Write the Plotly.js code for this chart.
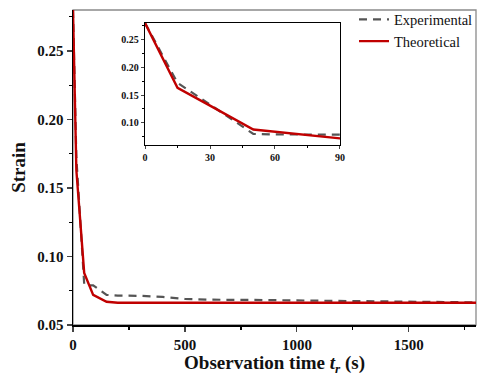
<!DOCTYPE html>
<html><head><meta charset="utf-8">
<script src="https://cdn.plot.ly/plotly-3.0.1.min.js"></script>
<style>body{margin:0;background:#fff}#plot{width:494px;height:377px}</style>
</head><body><div id="plot"></div>
<script>
const expTime = [0, 15, 30, 45, 50, 60, 90, 150, 200, 300, 400, 500, 600, 800, 1000, 1200, 1500, 1800];
const expStrain = [0.28, 0.172, 0.133, 0.092, 0.080, 0.079, 0.079, 0.072, 0.0715, 0.0713, 0.0705, 0.069, 0.0685, 0.0683, 0.068, 0.0675, 0.067, 0.0665];
const theoTime = [0, 15, 30, 50, 90, 150, 200, 300, 500, 1000, 1500, 1800];
const theoStrain = [0.28, 0.163, 0.131, 0.088, 0.072, 0.067, 0.0663, 0.0663, 0.0663, 0.0663, 0.0663, 0.0663];
const mainXTicks = [0, 500, 1000, 1500];
const mainXLabels = ['0', '500', '1000', '1500'];
const mainYTicks = [0.05, 0.10, 0.15, 0.20, 0.25];
const mainYLabels = ['0.05', '0.10', '0.15', '0.20', '0.25'];
const insetXTicks = [0, 30, 60, 90];
const insetXLabels = ['0', '30', '60', '90'];
const insetYTicks = [0.10, 0.15, 0.20, 0.25];
const insetYLabels = ['0.10', '0.15', '0.20', '0.25'];

const serif = 'Liberation Serif';
const bold = a => a.map(s => '<b>' + s + '</b>');
const expStyle = {color: '#555555', width: 2.2, dash: '8px,6px'};
const theoStyle = {color: '#c00000', width: 2.4};

const traces = [
  {x: expTime, y: expStrain, mode: 'lines', name: 'Experimental', line: expStyle, xaxis: 'x', yaxis: 'y'},
  {x: theoTime, y: theoStrain, mode: 'lines', name: 'Theoretical', line: theoStyle, xaxis: 'x', yaxis: 'y'},
  {x: expTime, y: expStrain, mode: 'lines', showlegend: false, line: expStyle, xaxis: 'x2', yaxis: 'y2'},
  {x: theoTime, y: theoStrain, mode: 'lines', showlegend: false, line: theoStyle, xaxis: 'x2', yaxis: 'y2'}
];

const layout = {
  width: 494, height: 377,
  margin: {l: 73, r: 18, t: 10, b: 52, autoexpand: false},
  paper_bgcolor: '#ffffff', plot_bgcolor: '#ffffff',
  font: {family: serif, color: '#111'},
  showlegend: true,
  legend: {x: 1.005, xanchor: 'right', y: 1.021, yanchor: 'top', bgcolor: 'rgba(0,0,0,0)',
    font: {family: serif, size: 14.5, color: '#111'}, tracegroupgap: 0},
  xaxis: {
    domain: [0, 1], range: [0, 1800], tickvals: mainXTicks, ticktext: bold(mainXLabels), ticks: 'outside', ticklen: 5, tickwidth: 1.2,
    showline: true, linecolor: '#000', linewidth: 1.5, showgrid: false, zeroline: false,
    minor: {tickvals: [250, 750, 1250, 1750], ticks: 'outside', ticklen: 3, tickcolor: '#000'},
    tickfont: {family: serif, size: 15, color: '#111'},
    title: {text: '<b>Observation time <i>t<sub>r</sub></i> (s)</b>', font: {family: serif, size: 19, color: '#111'}, standoff: 4}
  },
  yaxis: {
    domain: [0, 1], range: [0.05, 0.28], tickvals: mainYTicks, ticktext: bold(mainYLabels), ticks: 'outside', ticklen: 5, tickwidth: 1.2,
    showline: true, linecolor: '#000', linewidth: 1.5, showgrid: false, zeroline: false,
    minor: {tickvals: [0.075, 0.125, 0.175, 0.225, 0.275], ticks: 'outside', ticklen: 3, tickcolor: '#000'},
    tickfont: {family: serif, size: 15, color: '#111'},
    title: {text: '<b>Strain</b>', font: {family: serif, size: 19, color: '#111'}, standoff: 6}
  },
  xaxis2: {
    domain: [0.1787, 0.6625], anchor: 'y2', range: [0, 90], tickvals: insetXTicks, ticktext: bold(insetXLabels), ticks: 'outside', ticklen: 3,
    showline: true, mirror: true, linecolor: '#000', linewidth: 1.3, showgrid: false, zeroline: false,
    minor: {tickvals: [15, 45, 75], ticks: 'outside', ticklen: 2, tickcolor: '#000'},
    tickfont: {family: serif, size: 10, color: '#111'}
  },
  yaxis2: {
    domain: [0.5714, 0.9587], anchor: 'x2', range: [0.06, 0.28], tickvals: insetYTicks, ticktext: bold(insetYLabels), ticks: 'outside', ticklen: 3,
    showline: true, mirror: true, linecolor: '#000', linewidth: 1.3, showgrid: false, zeroline: false,
    minor: {tickvals: [0.075, 0.125, 0.175, 0.225, 0.275], ticks: 'outside', ticklen: 2, tickcolor: '#000'},
    tickfont: {family: serif, size: 10, color: '#111'}
  },
  shapes: [
    {type: 'rect', xref: 'paper', yref: 'paper', x0: 0, x1: 1, y0: 0, y1: 1, line: {color: '#8a8a8a', width: 1.3}, layer: 'below'},
    {type: 'rect', xref: 'x2 domain', yref: 'y2 domain', x0: 0, x1: 1, y0: 0, y1: 1, fillcolor: '#ffffff', line: {width: 0}, layer: 'below'}
  ]
};

Plotly.newPlot('plot', traces, layout, {displayModeBar: false, staticPlot: true});
</script></body></html>
